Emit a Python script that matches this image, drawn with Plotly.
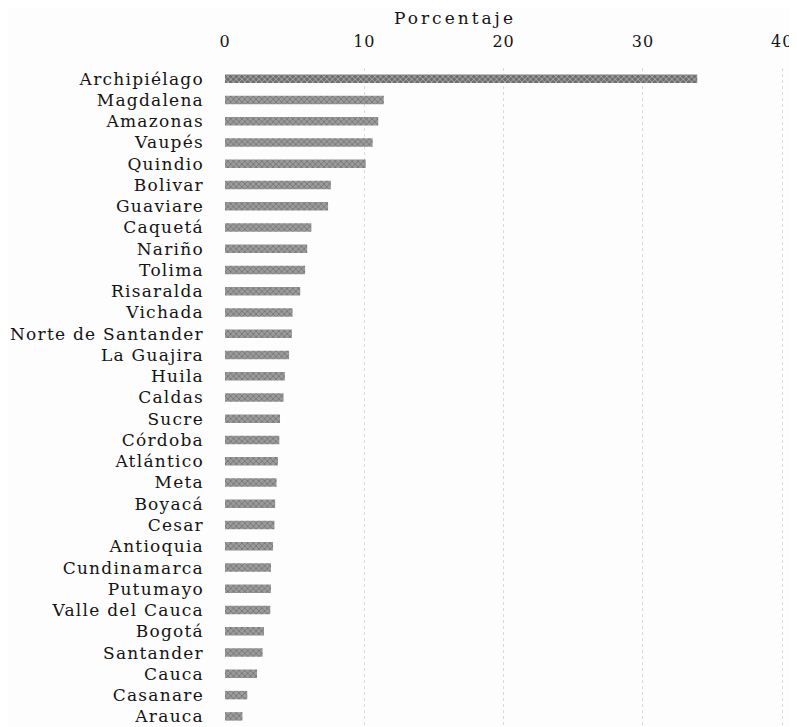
import plotly.graph_objects as go

departamentos = [
    "Archipiélago", "Magdalena", "Amazonas", "Vaupés", "Quindio", "Bolivar",
    "Guaviare", "Caquetá", "Nariño", "Tolima", "Risaralda", "Vichada",
    "Norte de Santander", "La Guajira", "Huila", "Caldas", "Sucre", "Córdoba",
    "Atlántico", "Meta", "Boyacá", "Cesar", "Antioquia", "Cundinamarca",
    "Putumayo", "Valle del Cauca", "Bogotá", "Santander", "Cauca", "Casanare",
    "Arauca",
]
porcentaje = [
    33.9, 11.4, 11.0, 10.6, 10.1, 7.6,
    7.4, 6.2, 5.9, 5.75, 5.4, 4.85,
    4.8, 4.6, 4.3, 4.2, 3.95, 3.9,
    3.8, 3.7, 3.6, 3.55, 3.45, 3.3,
    3.3, 3.25, 2.8, 2.7, 2.3, 1.6,
    1.25,
]
x_ticks = [0, 10, 20, 30, 40]
x_title = "Porcentaje"

bar_colors = ["#6e6e6e"] + ["#9c9c9c"] * (len(departamentos) - 1)

font_family = "DejaVu Serif, Liberation Serif, serif"
ink = "#141414"


def spaced(text, px):
    return f'<span style="letter-spacing:{px}px">{text}</span>'


fig = go.Figure(
    go.Bar(
        y=departamentos,
        x=porcentaje,
        orientation="h",
        width=0.40,
        marker=dict(
            color=bar_colors,
            line=dict(width=0),
            pattern=dict(shape="x", size=4, solidity=0.35, fgcolor="#555555"),
        ),
    )
)

# the page adds an 8px body margin, so the figure is sized to fit the window
fig.update_layout(
    width=789,
    height=719,
    margin=dict(l=217, r=12, t=60, b=0),
    paper_bgcolor="#fdfdfd",
    plot_bgcolor="#fdfdfd",
    showlegend=False,
    font=dict(family=font_family, size=17, color=ink),
    annotations=[
        dict(
            text=spaced(x_title, 3),
            xref="paper", yref="paper",
            x=0.41, y=1.0, yshift=50,
            xanchor="center", yanchor="middle",
            showarrow=False,
            font=dict(family=font_family, size=17, color=ink),
        )
    ],
)

fig.update_xaxes(
    side="top",
    range=[0, 40.2],
    tickvals=x_ticks,
    ticktext=[spaced(str(v), 1) for v in x_ticks],
    ticks="",
    ticklabelstandoff=17,
    automargin=False,
    showgrid=True,
    gridcolor="#dadada",
    griddash="dot",
    gridwidth=1,
    zeroline=False,
    showline=False,
    tickfont=dict(family=font_family, size=16, color=ink),
)

fig.update_yaxes(
    autorange="reversed",
    tickmode="array",
    tickvals=departamentos,
    ticktext=[spaced(d, 1.25) for d in departamentos],
    ticks="",
    ticklabelstandoff=20,
    automargin=False,
    showgrid=False,
    showline=False,
    zeroline=False,
    tickfont=dict(family=font_family, size=17, color=ink),
)

fig.write_html("out.html")
